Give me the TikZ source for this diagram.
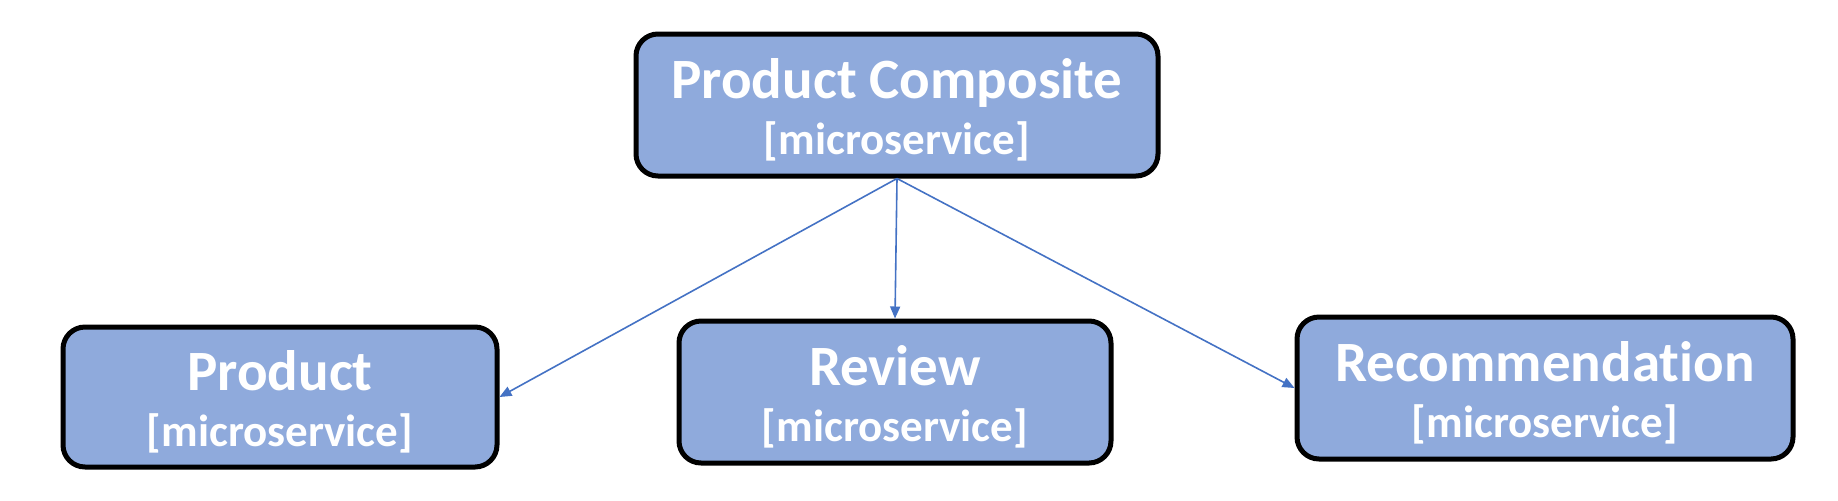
\documentclass[tikz,border=0pt]{standalone}
\usepackage{fontspec}
\setmainfont[Ligatures=NoCommon]{Carlito}
\usetikzlibrary{arrows.meta}
\definecolor{boxfill}{HTML}{8FAADC}
\definecolor{arrowblue}{HTML}{4472C4}
\tikzset{
  svc/.style={draw=black, line width=2.5pt, fill=boxfill, rounded corners=11pt,
    text=white, align=center, inner sep=0pt,
    font=\bfseries\fontsize{28.5}{28}\selectfont},
  link/.style={draw=arrowblue, line width=0.8pt, -{Triangle[length=6pt,width=5pt]}}
}
\newcommand{\subl}[1]{{\fontsize{22.5}{28}\selectfont #1}}
\newcommand{\topstrut}{\rule{0pt}{25pt}}
\begin{document}
\begin{tikzpicture}[x=0.5pt,y=-0.5pt]
\useasboundingbox (0,0) rectangle (1838,500);
\node[svc, minimum width=261pt, minimum height=71pt] (comp) at (897,105)
  {\topstrut Product Composite\\\subl{[microservice]}};
\node[svc, minimum width=217pt, minimum height=70pt] (prod) at (280,397)
  {\topstrut Product\\\subl{[microservice]}};
\node[svc, minimum width=216pt, minimum height=71pt] (rev) at (895,392)
  {\topstrut Review\\\subl{[microservice]}};
\node[svc, minimum width=248pt, minimum height=71pt] (rec) at (1545,388)
  {\topstrut Recommendation\\\subl{[microservice]}};
\draw[link] (comp.south) -- (prod.east);
\draw[link] (comp.south) -- (rev.north);
\draw[link] (comp.south) -- (rec.west);
\end{tikzpicture}
\end{document}
